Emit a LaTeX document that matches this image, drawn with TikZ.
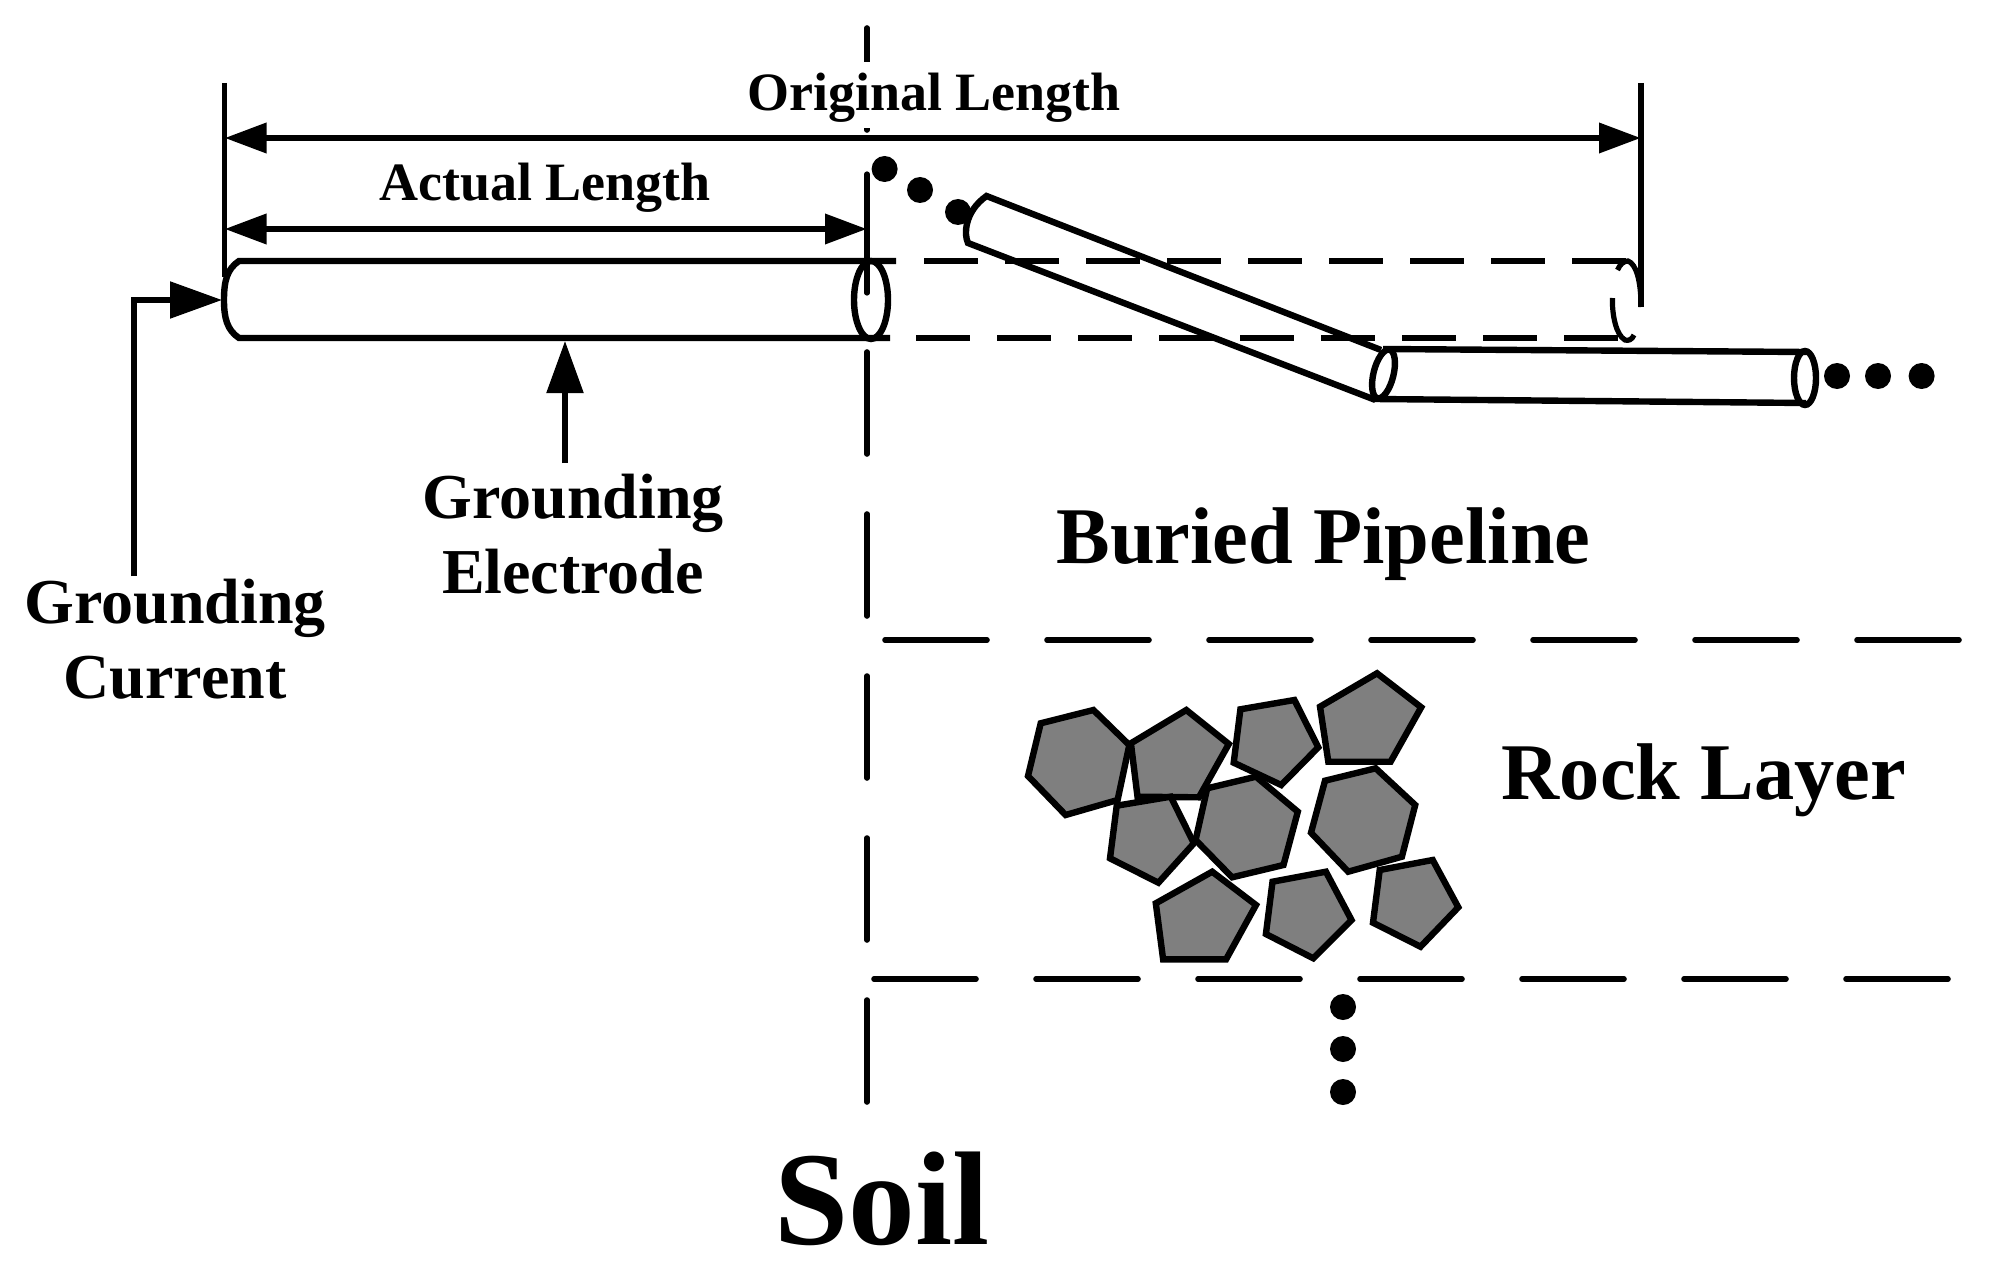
\documentclass[tikz,border=0pt]{standalone}
\usepackage{fontspec}
\setmainfont{Liberation Serif}
\usetikzlibrary{arrows.meta, calc}
\tikzset{
    my-label/.style={
        font=\bfseries\fontsize{27}{32}\selectfont, inner sep=0pt, anchor=base
    },
    my-label-big/.style={
        font=\bfseries\fontsize{32}{37.5}\selectfont, inner sep=0pt, anchor=base, align=center
    },
    my-label-layer/.style={
        font=\bfseries\fontsize{40.2}{48}\selectfont, inner sep=0pt, anchor=base
    },
    my-dim/.style={
        line width=3.4pt, {Triangle[length=21pt,width=14.5pt]}-{Triangle[length=21pt,width=14.5pt]}
    },
    my-pointer/.style={
        line width=2.7pt, -{Triangle[length=26pt,width=18pt]}
    },
    my-limit/.style={
        line width=2.6pt
    },
    my-pipe/.style={
        line width=3.2pt
    },
    my-trace/.style={
        line width=3.4pt, dash pattern=on 27pt off 13.5pt
    },
    my-layer/.style={
        line width=2.8pt, line cap=round, dash pattern=on 51pt off 30pt
    },
    my-rock/.style={
        draw, fill=rockgray, line width=3.2pt, miter limit=4
    },
    my-dot/.style={
        fill, shape=circle, minimum size=13pt, inner sep=0pt
    },
}
\definecolor{rockgray}{RGB}{127,127,127}
\begin{document}
\begin{tikzpicture}[x=0.5pt, y=-0.5pt]
        \useasboundingbox (0, 0) rectangle (2007, 1273);

        % BOUNDARY LINES ------------------------------------------------------------------------------

        % CONNECTOR POINTS
        \coordinate (LIMITLEFTTOP)  at (224.5, 83);
        \coordinate (LIMITLEFTEND)  at ($(LIMITLEFTTOP) + (0, 194)$);
        \coordinate (LIMITRIGHTTOP) at (1641, 83);
        \coordinate (LIMITRIGHTEND) at ($(LIMITRIGHTTOP) + (0, 224)$);
        \coordinate (SOILTOP)       at (867, 28);
        \coordinate (SOILEND)       at (867, 1105);
        \coordinate (TICKTOP)       at (867, 174);
        \coordinate (TICKEND)       at (867, 293);

        \draw[my-layer] (SOILTOP) -- (SOILEND);
        \draw[my-limit, line cap=round] (TICKTOP) -- (TICKEND);
        \draw[my-limit] (LIMITLEFTTOP) -- (LIMITLEFTEND);
        \draw[my-limit] (LIMITRIGHTTOP) -- (LIMITRIGHTEND);

        % LENGTH ARROWS AND LABELS
        \node[my-label, fill=white, text height=24.5pt, text depth=8.5pt] (ORIGINAL) at (934, 111) {Original Length};
        \node[my-label] (ACTUAL) at (545, 201) {Actual Length};
        \coordinate (ORIGINALA) at (224.5, 138);
        \coordinate (ORIGINALB) at (1641, 138);
        \coordinate (ACTUALA)   at (224.5, 229);
        \coordinate (ACTUALB)   at (867, 229);
        \draw[my-dim] (ORIGINALA) -- (ORIGINALB);
        \draw[my-dim] (ACTUALA) -- (ACTUALB);

        % GROUNDING ELECTRODE -------------------------------------------------------------------------

        % CORNERS AND WIRES
        \coordinate (ELECTL) at (239, 261);
        \coordinate (ELECBL) at (239, 338);
        \coordinate (ELECTR) at (896, 261);
        \coordinate (ELECBR) at (890, 338);
        \draw[my-pipe] (ELECTR) -- (ELECTL)
            .. controls ($(ELECTL) + (-12, 8)$) and ($(ELECTL) + (-15, 20)$) .. ($(ELECTL) + (-15, 39)$)
            .. controls ($(ELECBL) + (-15, -20)$) and ($(ELECBL) + (-12, -8)$) .. (ELECBL) -- (ELECBR);
        \draw[my-pipe] (871, 300) ellipse [x radius=17, y radius=39];

        % ORIGINAL POSITION, DASHED
        \coordinate (TRACETL) at (924, 261);
        \coordinate (TRACETR) at (1628, 261);
        \coordinate (TRACEBL) at (916, 338);
        \coordinate (TRACEBR) at (1625, 338);
        \draw[my-trace] (TRACETL) -- (TRACETR);
        \draw[my-trace] (TRACEBL) -- (TRACEBR);
        \draw[my-limit] (1617.5, 270) .. controls (1620, 264) and (1624, 261) .. (TRACETR)
            .. controls (1636, 264) and (1641, 280) .. (LIMITRIGHTEND);
        \draw[my-limit] (1612.4, 298) .. controls (1612, 315) and (1616, 335) .. (1625, 340)
            .. controls (1628, 341) and (1632, 340) .. (1634, 335);

        % POINTERS AND LABELS
        \node[my-label-big] (CURRENT) at (175, 698) {Grounding\\Current};
        \node[my-label-big] (ELECTRODE) at (573, 593) {Grounding\\Electrode};
        \coordinate (CURRENTEND)  at (134, 576);
        \coordinate (CURRENTTURN) at (134, 300);
        \coordinate (CURRENTTIP)  at (222, 300);
        \coordinate (ELECTRODEEND) at (565, 463);
        \coordinate (ELECTRODETIP) at (565, 341);
        \draw[my-pointer] (CURRENTEND) -- (CURRENTTURN) -- (CURRENTTIP);
        \draw[my-pointer] (ELECTRODEEND) -- (ELECTRODETIP);

        % BURIED PIPELINE -----------------------------------------------------------------------------

        % DIAGONAL SECTION
        \coordinate (SLANTTL) at (986.5, 196);
        \coordinate (SLANTBL) at (968, 243);
        \coordinate (SLANTTR) at (1381, 350);
        \coordinate (SLANTBR) at (1375.5, 400);
        \draw[my-pipe] (SLANTBR) -- (SLANTBL)
            .. controls (964, 235) and (964, 212) .. (SLANTTL) -- (SLANTTR);

        % FLAT SECTION
        \coordinate (FLATTL) at (1383, 349);
        \coordinate (FLATTR) at (1806, 352);
        \coordinate (FLATBL) at (1375, 399);
        \coordinate (FLATBR) at (1806, 403);
        \draw[my-pipe] (FLATTL) -- (FLATTR);
        \draw[my-pipe] (FLATBL) -- (FLATBR);
        \draw[my-pipe, rotate around={-14:(1383.5, 374)}] (1383.5, 374) ellipse [x radius=10, y radius=25];
        \draw[my-pipe] (1805, 378) ellipse [x radius=11, y radius=27];

        % CONTINUATION DOTS
        \node[my-dot] (DOTA1) at (884.6, 169) {};
        \node[my-dot] (DOTA2) at (920, 190) {};
        \node[my-dot] (DOTA3) at (958, 212) {};
        \node[my-dot] (DOTB1) at (1837, 376) {};
        \node[my-dot] (DOTB2) at (1878, 376) {};
        \node[my-dot] (DOTB3) at (1921.6, 376) {};
        \node[my-dot] (DOTC1) at (1343, 1007) {};
        \node[my-dot] (DOTC2) at (1343, 1049) {};
        \node[my-dot] (DOTC3) at (1343, 1092) {};

        \node[my-label-layer] (PIPELINE) at (1323.5, 563) {Buried Pipeline};

        % ROCK LAYER ----------------------------------------------------------------------------------

        % LAYER BOUNDARIES
        \coordinate (UPPERA) at (885, 640);
        \coordinate (UPPERB) at (1962, 640);
        \coordinate (LOWERA) at (874, 979);
        \coordinate (LOWERB) at (1951, 979);
        \draw[my-layer] (UPPERA) -- (UPPERB);
        \draw[my-layer] (LOWERA) -- (LOWERB);

        % ROCKS
        \draw[my-rock] (1093.4, 710) -- (1129.3, 745) -- (1117.6, 800) -- (1065.6, 815) -- (1028, 776) -- (1040.7, 723.3) -- cycle;
        \draw[my-rock] (1186.3, 710) -- (1228.8, 744) -- (1198.9, 797.3) -- (1137.5, 796.7) -- (1130.9, 743.3) -- cycle;
        \draw[my-rock] (1294.4, 700) -- (1318.3, 747.3) -- (1281.2, 785) -- (1233.7, 762.7) -- (1240.4, 709.3) -- cycle;
        \draw[my-rock] (1377, 673.3) -- (1421.2, 707.3) -- (1390.6, 761.7) -- (1328.3, 761.7) -- (1320, 706.7) -- cycle;
        \draw[my-rock] (1170.7, 796.7) -- (1193.9, 843.3) -- (1158.4, 882.7) -- (1110, 858.3) -- (1116.7, 805.7) -- cycle;
        \draw[my-rock] (1256, 776.7) -- (1297.8, 811.7) -- (1283.5, 865) -- (1232.1, 877.3) -- (1195.6, 840) -- (1207.2, 788.3) -- cycle;
        \draw[my-rock] (1375.7, 768.3) -- (1415.2, 805) -- (1401.9, 856.7) -- (1348.2, 871.7) -- (1311, 832.7) -- (1325, 780.7) -- cycle;
        \draw[my-rock] (1212.2, 871.7) -- (1256, 905) -- (1226.1, 959.3) -- (1163.1, 959.3) -- (1155.8, 903.3) -- cycle;
        \draw[my-rock] (1325.9, 871.7) -- (1351.5, 920) -- (1313.3, 958.3) -- (1265.9, 934) -- (1272.5, 881.7) -- cycle;
        \draw[my-rock] (1432.7, 860) -- (1458.3, 907.3) -- (1420.5, 946.7) -- (1373, 922.7) -- (1379.7, 870) -- cycle;

        \node[my-label-layer] (ROCK) at (1704, 799) {Rock Layer};

        % SOIL
        \node[my-label, font=\bfseries\fontsize{66.7}{80}\selectfont] (SOIL) at (882, 1244) {Soil};

\end{tikzpicture}
\end{document}
